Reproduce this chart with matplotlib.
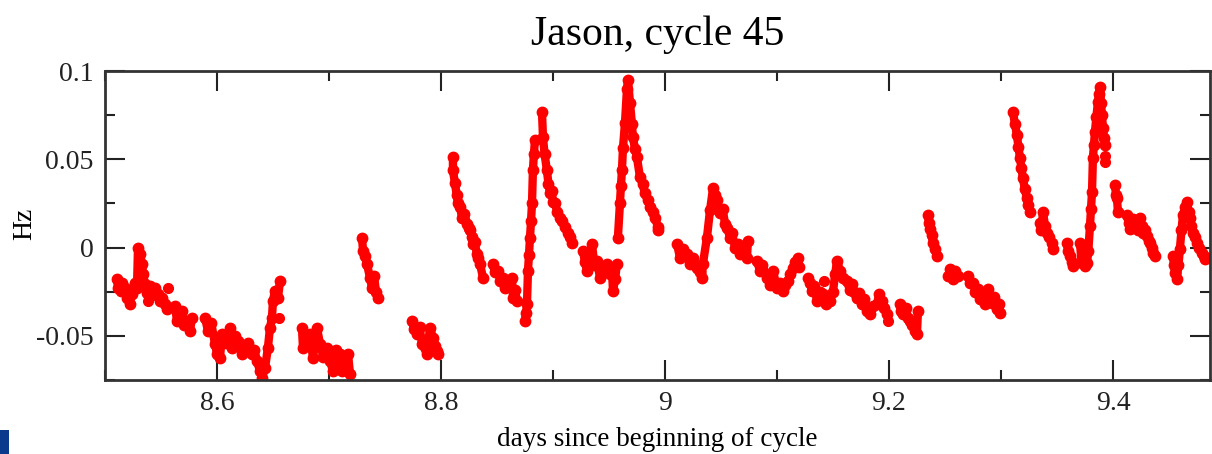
import matplotlib
matplotlib.use("Agg")
import matplotlib.pyplot as plt
from matplotlib.patches import Rectangle
from matplotlib.ticker import MultipleLocator, FuncFormatter

plt.rcParams['font.family'] = ['Liberation Serif', 'DejaVu Serif']
plt.rcParams['axes.unicode_minus'] = False

# days since beginning of cycle / frequency offset (Hz), one pair per run of samples
a1_t = [8.5107, 8.5116, 8.5143, 8.5152, 8.5179, 8.5196, 8.5223, 8.5241, 8.5268, 8.5286, 8.5295, 8.5313,
        8.5330, 8.5339, 8.5357, 8.5375, 8.5402, 8.5420, 8.5446, 8.5473, 8.5490, 8.5509, 8.5536, 8.5554]
a1_hz = [-0.0176, -0.0227, -0.0244, -0.0199, -0.0227, -0.0284, -0.0318, -0.0261, -0.0199, -0.0227, 0.0000, -0.0034,
         -0.0091, -0.0148, -0.0205, -0.0260, -0.0216, -0.0270, -0.0227, -0.0261, -0.0300, -0.0284, -0.0318, -0.0347]

a2_t = [8.5625, 8.5643, 8.5665, 8.5688, 8.5710, 8.5732, 8.5759, 8.5777]
a2_hz = [-0.0330, -0.0415, -0.0380, -0.0358, -0.0440, -0.0415, -0.0472, -0.0398]

a3_t = [8.5893, 8.5920, 8.5950, 8.5982, 8.6000, 8.6027, 8.6045, 8.6080, 8.6116, 8.6134, 8.6160, 8.6188, 8.6220, 8.6250,
        8.6280, 8.6313, 8.6335, 8.6357, 8.6384, 8.6402, 8.6429, 8.6455, 8.6473, 8.6491, 8.6500, 8.6518, 8.6545, 8.6563]
a3_hz = [-0.0398, -0.0472, -0.0430, -0.0545, -0.0600, -0.0625, -0.0489, -0.0540, -0.0455, -0.0568, -0.0500, -0.0528,
         -0.0600, -0.0568, -0.0540, -0.0602, -0.0580, -0.0642, -0.0699, -0.0739, -0.0682, -0.0568, -0.0455, -0.0398,
         -0.0301, -0.0244, -0.0284, -0.0188]

b_t = [8.6759, 8.6768, 8.6795, 8.6830, 8.6857, 8.6893, 8.6920, 8.6950, 8.6982, 8.7009, 8.7036, 8.7060, 8.7098,
       8.7120, 8.7143, 8.7170, 8.7188]
b_hz = [-0.0455, -0.0568, -0.0520, -0.0489, -0.0625, -0.0455, -0.0545, -0.0620, -0.0568, -0.0642, -0.0699, -0.0580,
        -0.0602, -0.0700, -0.0659, -0.0602, -0.0716]

c_t = [8.7295, 8.7304, 8.7320, 8.7339, 8.7366, 8.7384, 8.7402, 8.7420, 8.7438]
c_hz = [0.0057, -0.0017, -0.0050, -0.0091, -0.0170, -0.0227, -0.0160, -0.0250, -0.0284]

d_t = [8.7741, 8.7760, 8.7786, 8.7810, 8.7830, 8.7875, 8.7902, 8.7929, 8.7950, 8.7964, 8.7973]
d_hz = [-0.0415, -0.0460, -0.0489, -0.0450, -0.0545, -0.0602, -0.0455, -0.0511, -0.0560, -0.0585, -0.0602]

e1_t = [8.8107, 8.8107, 8.8125, 8.8140, 8.8152, 8.8170, 8.8188, 8.8210, 8.8232, 8.8250, 8.8259, 8.8275, 8.8286,
        8.8300, 8.8321, 8.8335, 8.8348, 8.8375]
e1_hz = [0.0511, 0.0438, 0.0364, 0.0300, 0.0250, 0.0230, 0.0170, 0.0190, 0.0136, 0.0110, 0.0097, 0.0060, 0.0023,
         0.0030, -0.0034, -0.0060, -0.0091, -0.0170]

e2_t = [8.8464, 8.8480, 8.8509, 8.8530, 8.8554, 8.8575, 8.8598, 8.8634, 8.8643, 8.8660, 8.8679]
e2_hz = [-0.0091, -0.0140, -0.0131, -0.0190, -0.0170, -0.0230, -0.0205, -0.0170, -0.0284, -0.0240, -0.0301]

e3_t = [8.8750, 8.8760, 8.8768, 8.8777, 8.8786, 8.8795, 8.8804, 8.8813, 8.8821, 8.8830, 8.8839]
e3_hz = [-0.0415, -0.0370, -0.0318, -0.0131, -0.0040, 0.0057, 0.0150, 0.0250, 0.0438, 0.0530, 0.0608]

e4_t = [8.8902, 8.8911, 8.8925, 8.8946, 8.8960, 8.8973, 8.8990, 8.9000, 8.9018, 8.9040, 8.9063, 8.9085, 8.9107,
        8.9134, 8.9150, 8.9170]
e4_hz = [0.0767, 0.0625, 0.0530, 0.0438, 0.0360, 0.0307, 0.0320, 0.0260, 0.0250, 0.0200, 0.0170, 0.0150, 0.0114,
         0.0080, 0.0060, 0.0028]

f1_t = [8.9268, 8.9285, 8.9304, 8.9325, 8.9348, 8.9370, 8.9393, 8.9420, 8.9450, 8.9482, 8.9505, 8.9527, 8.9536,
        8.9555, 8.9571]
f1_hz = [-0.0017, -0.0080, -0.0131, -0.0060, 0.0023, -0.0100, -0.0074, -0.0170, -0.0120, -0.0091, -0.0150, -0.0131,
         -0.0244, -0.0180, -0.0091]

f2_t = [8.9580, 8.9598, 8.9607, 8.9616, 8.9625, 8.9643, 8.9661, 8.9670, 8.9688, 8.9705, 8.9714, 8.9732, 8.9750,
        8.9777, 8.9800, 8.9821, 8.9845, 8.9866, 8.9890, 8.9911, 8.9938, 8.9938]
f2_hz = [0.0057, 0.0250, 0.0350, 0.0438, 0.0563, 0.0705, 0.0900, 0.0949, 0.0818, 0.0700, 0.0625, 0.0560, 0.0511,
         0.0398, 0.0360, 0.0307, 0.0270, 0.0227, 0.0200, 0.0170, 0.0114, 0.0097]

g1_t = [9.0107, 9.0134, 9.0160, 9.0196, 9.0223, 9.0250, 9.0286, 9.0310, 9.0330, 9.0339, 9.0375, 9.0402, 9.0429,
        9.0446, 9.0464, 9.0491, 9.0515, 9.0536, 9.0558, 9.0580, 9.0600, 9.0625, 9.0650, 9.0670, 9.0700, 9.0732, 9.0741]
g1_hz = [0.0023, -0.0057, -0.0010, -0.0034, -0.0091, -0.0060, -0.0114, -0.0140, -0.0170, -0.0091, 0.0057, 0.0210,
         0.0335, 0.0300, 0.0267, 0.0193, 0.0220, 0.0136, 0.0110, 0.0057, 0.0080, 0.0000, 0.0020, -0.0034, -0.0020,
         -0.0057, 0.0040]

g2_t = [9.0821, 9.0848, 9.0870, 9.0911, 9.0940, 9.0964, 9.1000, 9.1030, 9.1054, 9.1075, 9.1098, 9.1120, 9.1143,
        9.1165, 9.1188, 9.1200]
g2_hz = [-0.0074, -0.0131, -0.0100, -0.0170, -0.0210, -0.0131, -0.0227, -0.0200, -0.0244, -0.0210, -0.0188, -0.0150,
         -0.0114, -0.0080, -0.0057, -0.0110]

g3_t = [9.1277, 9.1295, 9.1313, 9.1335, 9.1357, 9.1385, 9.1411, 9.1440, 9.1473, 9.1500, 9.1520, 9.1536, 9.1563,
        9.1590, 9.1625, 9.1650, 9.1670, 9.1690, 9.1714, 9.1735, 9.1759, 9.1780, 9.1804, 9.1830, 9.1860, 9.1893,
        9.1915, 9.1938, 9.1960, 9.1982]
g3_hz = [-0.0170, -0.0200, -0.0244, -0.0220, -0.0301, -0.0250, -0.0261, -0.0320, -0.0301, -0.0250, -0.0150, -0.0074,
         -0.0131, -0.0170, -0.0188, -0.0240, -0.0205, -0.0250, -0.0284, -0.0260, -0.0318, -0.0290, -0.0358, -0.0375,
         -0.0330, -0.0318, -0.0261, -0.0300, -0.0340, -0.0375]

g4_t = [9.2098, 9.2110, 9.2125, 9.2150, 9.2170, 9.2188, 9.2210, 9.2232, 9.2250, 9.2259]
g4_hz = [-0.0318, -0.0360, -0.0375, -0.0340, -0.0400, -0.0415, -0.0440, -0.0472, -0.0489, -0.0358]

h_t = [9.2348, 9.2357, 9.2366, 9.2380, 9.2393, 9.2410, 9.2429]
h_hz = [0.0182, 0.0140, 0.0108, 0.0070, 0.0028, -0.0010, -0.0045]

i_t = [9.2530, 9.2545, 9.2571, 9.2590, 9.2616]
i_hz = [-0.0160, -0.0119, -0.0176, -0.0130, -0.0159]

j_t = [9.2705, 9.2728, 9.2750, 9.2772, 9.2795, 9.2815, 9.2839, 9.2860, 9.2884, 9.2900, 9.2920, 9.2940, 9.2964,
       9.2980, 9.2991]
j_hz = [-0.0159, -0.0200, -0.0199, -0.0250, -0.0233, -0.0290, -0.0273, -0.0320, -0.0233, -0.0280, -0.0312, -0.0280,
        -0.0347, -0.0320, -0.0369]

k_t = [9.3107, 9.3125, 9.3143, 9.3156, 9.3170, 9.3183, 9.3196, 9.3214, 9.3232, 9.3245, 9.3259]
k_hz = [0.0767, 0.0700, 0.0636, 0.0570, 0.0506, 0.0450, 0.0392, 0.0330, 0.0278, 0.0240, 0.0199]

l_t = [9.3348, 9.3362, 9.3375, 9.3395, 9.3411, 9.3430, 9.3455, 9.3464]
l_hz = [0.0142, 0.0100, 0.0199, 0.0120, 0.0085, 0.0060, 0.0028, -0.0006]

m_t = [9.3589, 9.3600, 9.3616, 9.3630, 9.3643]
m_hz = [0.0028, -0.0020, -0.0045, -0.0080, -0.0102]

n_t = [9.3705, 9.3720, 9.3732, 9.3750, 9.3768, 9.3780, 9.3795, 9.3804, 9.3813, 9.3821, 9.3830, 9.3839, 9.3852,
       9.3866, 9.3875, 9.3884, 9.3893, 9.3902, 9.3911, 9.3920, 9.3929]
n_hz = [0.0028, -0.0085, -0.0050, -0.0102, -0.0090, -0.0020, 0.0125, 0.0220, 0.0313, 0.0506, 0.0580, 0.0653, 0.0740,
        0.0824, 0.0870, 0.0909, 0.0820, 0.0750, 0.0676, 0.0620, 0.0580]

o_t = [9.4018, 9.4027, 9.4036, 9.4045]
o_hz = [0.0352, 0.0300, 0.0278, 0.0199]

p_t = [9.4125, 9.4140, 9.4152, 9.4175, 9.4196, 9.4220, 9.4241, 9.4255, 9.4268, 9.4285, 9.4304, 9.4318, 9.4330,
       9.4345, 9.4357, 9.4375]
p_hz = [0.0182, 0.0140, 0.0108, 0.0160, 0.0125, 0.0100, 0.0165, 0.0120, 0.0085, 0.0100, 0.0068, 0.0040, 0.0028,
        0.0000, -0.0028, -0.0045]

q_t = [9.4536, 9.4545, 9.4554, 9.4571, 9.4585, 9.4598, 9.4612, 9.4625, 9.4643, 9.4661, 9.4675, 9.4688, 9.4700,
       9.4714, 9.4732, 9.4750, 9.4770, 9.4795, 9.4810, 9.4821]
q_hz = [-0.0045, -0.0100, -0.0142, -0.0176, -0.0100, -0.0006, 0.0100, 0.0182, 0.0230, 0.0256, 0.0200, 0.0165,
        0.0120, 0.0085, 0.0060, 0.0028, 0.0000, -0.0028, -0.0050, -0.0063]

# isolated samples
lone_t = [8.5384, 8.5563, 8.6554, 9.1420, 9.1991, 9.3929, 9.3925]
lone_hz = [-0.0301, -0.0230, -0.0398, -0.0188, -0.0415, 0.0483, 0.0520]

runs = [(a1_t, a1_hz), (a2_t, a2_hz), (a3_t, a3_hz), (b_t, b_hz), (c_t, c_hz), (d_t, d_hz),
        (e1_t, e1_hz), (e2_t, e2_hz), (e3_t, e3_hz), (e4_t, e4_hz), (f1_t, f1_hz), (f2_t, f2_hz),
        (g1_t, g1_hz), (g2_t, g2_hz), (g3_t, g3_hz), (g4_t, g4_hz), (h_t, h_hz), (i_t, i_hz),
        (j_t, j_hz), (k_t, k_hz), (l_t, l_hz), (m_t, m_hz), (n_t, n_hz), (o_t, o_hz), (p_t, p_hz),
        (q_t, q_hz)]

x_ticks = [8.6, 8.8, 9.0, 9.2, 9.4]
y_ticks = [-0.05, 0.0, 0.05, 0.1]

fig = plt.figure(figsize=(12.12, 4.54), dpi=100)
ax = fig.add_axes([0.0866, 0.163, 0.9117, 0.6806])

red = '#ff0000'
for t, hz in runs:
    ax.plot(t, hz, '-o', color=red, lw=6, ms=7.5, mec=red,
            solid_capstyle='round', solid_joinstyle='round')
ax.plot(lone_t, lone_hz, 'o', color=red, ms=7)

ax.set_xlim(8.5, 9.4866)
ax.set_ylim(-0.075, 0.1)
ax.set_xticks(x_ticks)
ax.set_yticks(y_ticks)
ax.xaxis.set_minor_locator(MultipleLocator(0.1))
ax.yaxis.set_minor_locator(MultipleLocator(0.025))
fmt = FuncFormatter(lambda v, p: '%g' % round(v, 4))
ax.xaxis.set_major_formatter(fmt)
ax.yaxis.set_major_formatter(fmt)

ax.tick_params(which='both', direction='in', top=True, right=True, colors='#222222',
               labelsize=20, width=1.5)
ax.tick_params(which='major', length=14.5, pad=8)
ax.tick_params(which='minor', length=7.2)
for sp in ax.spines.values():
    sp.set_linewidth(2)
    sp.set_color('#333333')

ax.set_title('Jason, cycle 45', fontsize=30, pad=19)
ax.set_xlabel('days since beginning of cycle', fontsize=19.5, labelpad=8)
ax.set_ylabel('Hz', fontsize=20, rotation=90, ha='center', va='center')
ax.yaxis.set_label_coords(-0.073, 0.505)

# small dark-blue block in the lower-left corner of the picture
fig.patches.append(Rectangle((0, 0), 9 / 1212, 24 / 454, transform=fig.transFigure,
                             facecolor='#0a3a8c', edgecolor='none'))

fig.savefig('out.png', dpi=100)
